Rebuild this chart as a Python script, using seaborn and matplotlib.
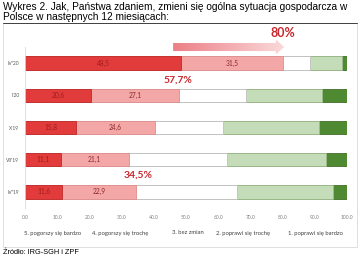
import numpy as np
import pandas as pd
import matplotlib
matplotlib.use("Agg")
import matplotlib.pyplot as plt
from matplotlib.patches import Rectangle, FancyArrow
from matplotlib.colors import LinearSegmentedColormap
import seaborn as sns

periods = ["IV'20", "I'20", "X'19", "VII'19", "IV'19"]
much_worse = [48.5, 20.6, 15.8, 11.1, 11.6]
bit_worse = [31.5, 27.1, 24.6, 21.1, 22.9]
no_change = [8.5, 21.0, 21.2, 30.4, 31.4]
bit_better = [9.8, 23.4, 29.7, 30.8, 29.8]
much_better = [1.7, 7.9, 8.7, 6.6, 4.3]
legend_labels = ["5. pogorszy się bardzo", "4. pogorszy się trochę", "3. bez zmian",
                 "2. poprawi się trochę", "1. poprawi się bardzo"]
callouts = [("80%", 80.0, -0.93, 9), ("57,7%", 47.5, 0.53, 7.5), ("34,5%", 35.1, 3.48, 7.5)]

series = [much_worse, bit_worse, no_change, bit_better, much_better]
colors = ["#E23B3B", "#F3A7A7", "#FFFFFF", "#C4DCB7", "#4F8A33"]
edges = ["#C02A2A", "#E08C8C", "#BFBFBF", "#9DBB8E", "#3E7027"]

sns.set_style("white")
plt.rcParams["font.family"] = ["Lato", "DejaVu Sans"]

fig = plt.figure(figsize=(3.6, 2.57), dpi=100)
ax = fig.add_axes([25 / 360, 49 / 257, 322 / 360, 161 / 257])

# stacked bars: draw cumulative totals from the right-most layer down
cum = np.cumsum(np.array(series), axis=0)
for i in range(len(series) - 1, -1, -1):
    df = pd.DataFrame({"period": periods, "value": cum[i]})
    sns.barplot(data=df, x="value", y="period", orient="h", color=colors[i],
                edgecolor=edges[i], linewidth=0.6, width=0.42, saturation=1, ax=ax)

# values inside the red segments
for r in range(len(periods)):
    ax.text(much_worse[r] / 2, r, f"{much_worse[r]:.1f}".replace(".", ","),
            ha="center", va="center", fontsize=4.8, color="#9E1E1E")
    ax.text(much_worse[r] + bit_worse[r] / 2, r, f"{bit_worse[r]:.1f}".replace(".", ","),
            ha="center", va="center", fontsize=4.8, color="#8E2A2A")

ax.set_xlim(0, 100)
ax.set_ylim(4.5, -0.5)
ax.set_xticks(np.arange(0, 101, 10))
ax.set_xticklabels([f"{v:.1f}" for v in np.arange(0, 101, 10)], fontsize=3.6, color="#7F7F7F")
ax.tick_params(axis="y", labelsize=3.6, labelcolor="#595959", length=0, pad=4)
ax.tick_params(axis="x", length=0, pad=5)
ax.set_xlabel("")
ax.set_ylabel("")
for s in ["top", "right", "bottom"]:
    ax.spines[s].set_visible(False)
ax.spines["left"].set_color("#D9D9D9")
ax.spines["left"].set_linewidth(0.6)

# gradient arrow
arrow = FancyArrow(46, -0.5, 34.5, 0, width=0.25, head_width=0.46, head_length=2.6,
                   length_includes_head=True, transform=ax.transData, facecolor="none",
                   edgecolor="none", clip_on=False)
ax.add_patch(arrow)
cmap = LinearSegmentedColormap.from_list("g", ["#EC7F86", "#FADADA"])
img = ax.imshow(np.linspace(0, 1, 256).reshape(1, -1), cmap=cmap, aspect="auto",
                extent=[46, 80.5, -0.26, -0.74], zorder=3)
img.set_clip_box(fig.bbox)
img.set_clip_path(arrow)
ax.set_xlim(0, 100)
ax.set_ylim(4.5, -0.5)

for txt, x, y, fs in callouts:
    ax.text(x, y, txt, ha="center", va="center", fontsize=fs, fontweight="bold",
            color="#C8282E", clip_on=False)

# legend row
for lbl, xc in zip(legend_labels, [53, 120, 188, 243, 315]):
    fig.text(xc / 360, 1 - 233 / 257, lbl, ha="center", va="center", fontsize=4.2, color="#404040")

# frame and title
fig.add_artist(Rectangle((3 / 360, 10 / 257), 354 / 360, 224 / 257, transform=fig.transFigure,
                         fill=False, edgecolor="#D9D9D9", linewidth=0.6))
fig.add_artist(plt.Line2D([3 / 360, 357 / 360], [1 - 22.5 / 257] * 2, transform=fig.transFigure,
                          color="#404040", linewidth=0.7))
fig.text(3 / 360, 1 - 1.5 / 257,
         "Wykres 2. Jak, Państwa zdaniem, zmieni się ogólna sytuacja gospodarcza w\nPolsce w następnych 12 miesiącach:",
         ha="left", va="top", fontsize=7.3, family=["Liberation Sans", "DejaVu Sans"],
         linespacing=1.0, color="#000000")
fig.text(3 / 360, 1 - 252 / 257, "Źródło: IRG-SGH i ZPF", ha="left", va="center",
         fontsize=5.3, family=["Liberation Sans", "DejaVu Sans"], color="#000000")

fig.savefig("out.png", dpi=100)
plt.close(fig)
